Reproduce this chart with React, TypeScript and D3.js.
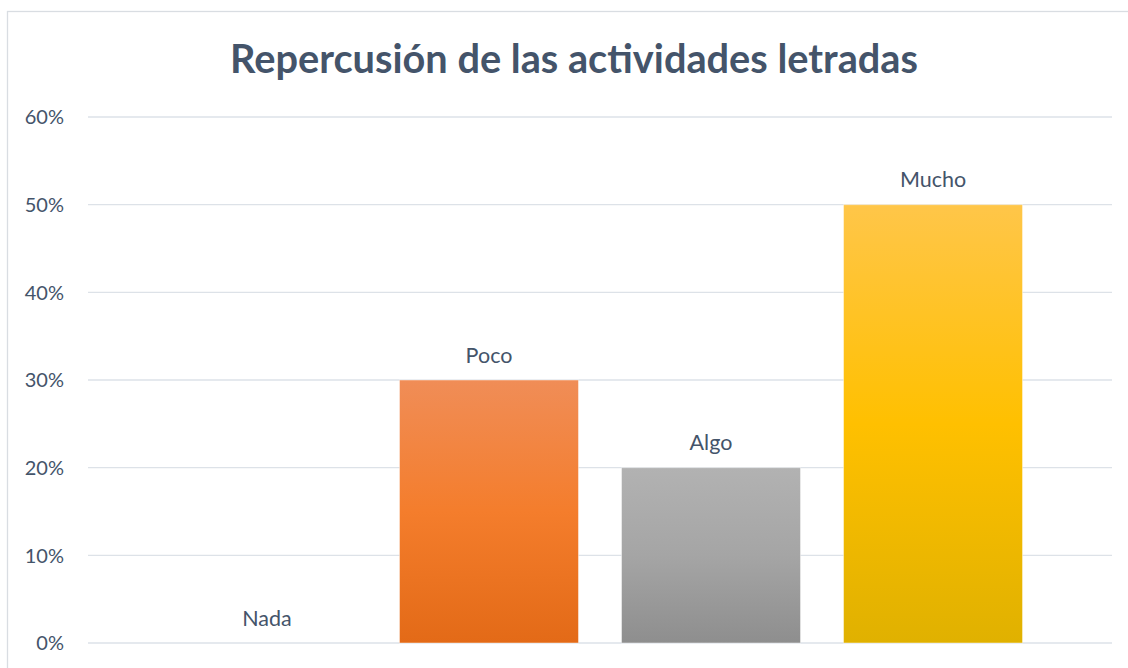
import React, { useLayoutEffect, useRef, useState } from "react";
import * as d3 from "d3";

const categories = ["Nada", "Poco", "Algo", "Mucho"];
const values = [0, 0.3, 0.2, 0.5];
const yTicks = [0, 0.1, 0.2, 0.3, 0.4, 0.5, 0.6];
const title = "Repercusión de las actividades letradas";

const gradients = [
  { id: "gNada", stops: ["#7aa1d8", "#4472c4", "#3a64b0"] },
  { id: "gPoco", stops: ["#f08d57", "#f47d2c", "#e36a17"] },
  { id: "gAlgo", stops: ["#b2b2b2", "#a5a5a5", "#8e8e8e"] },
  { id: "gMucho", stops: ["#ffc649", "#ffc000", "#e0b100"] },
];

const W = 1128;
const H = 668;
const plot = { left: 88, right: 1112, top: 117, bottom: 643 };
const FONT = "Lato, 'Open Sans', sans-serif";
const TEXT = "#44546A";

export default function App() {
  const titleRef = useRef<SVGTextElement>(null);
  const [titleSize, setTitleSize] = useState(37);

  useLayoutEffect(() => {
    const el = titleRef.current;
    if (!el) return;
    const len = el.getComputedTextLength();
    const target = 688;
    if (len > 0 && Math.abs(len - target) > 1) {
      setTitleSize((s) => (s * target) / len);
    }
  }, [titleSize]);

  const x = d3
    .scaleBand<string>()
    .domain(categories)
    .range([plot.left, plot.right])
    .paddingInner(0.1937)
    .paddingOuter(0.403)
    .align(0.5);
  const y = d3.scaleLinear().domain([0, 0.6]).range([plot.bottom, plot.top]);
  const fmt = d3.format(".0%");

  return (
    <svg
      width={W}
      height={H}
      style={{ position: "absolute", left: 0, top: 0, display: "block", background: "#fff" }}
    >
      <defs>
        {gradients.map((g) => (
          <linearGradient key={g.id} id={g.id} x1="0" y1="0" x2="0" y2="1">
            <stop offset="0%" stopColor={g.stops[0]} />
            <stop offset="50%" stopColor={g.stops[1]} />
            <stop offset="100%" stopColor={g.stops[2]} />
          </linearGradient>
        ))}
      </defs>
      <rect x={7.5} y={11.5} width={W + 20} height={H + 20} fill="#fff" stroke="#D9DDE2" strokeWidth={1.3} />
      <text
        ref={titleRef}
        x={(230 + 918) / 2}
        y={72.5}
        textAnchor="middle"
        fontFamily={FONT}
        fontWeight={700}
        fontSize={titleSize}
        fill={TEXT}
      >
        {title}
      </text>
      <g>
        {yTicks.map((t) => (
          <g key={t}>
            <line
              x1={plot.left}
              x2={plot.right}
              y1={y(t)}
              y2={y(t)}
              stroke="#DDE2E8"
              strokeWidth={1.4}
            />
            <text
              x={64}
              y={y(t)}
              dy="0.36em"
              textAnchor="end"
              fontFamily={FONT}
              fontSize={20}
              fill={TEXT}
            >
              {fmt(t)}
            </text>
          </g>
        ))}
      </g>
      <g>
        {categories.map((c, i) => {
          const v = values[i];
          const g = gradients[i];
          const bx = x(c) as number;
          const bw = x.bandwidth();
          return (
            <g key={c}>
              {v > 0 && (
                <rect
                  x={bx}
                  y={y(v)}
                  width={bw}
                  height={y(0) - y(v)}
                  fill={`url(#${g.id})`}
                  stroke="#ffffff"
                  strokeOpacity={0.45}
                  strokeWidth={1}
                />
              )}
              <text
                x={bx + bw / 2}
                y={y(v) - 17.5}
                textAnchor="middle"
                fontFamily={FONT}
                fontSize={21.5}
                fill={TEXT}
              >
                {c}
              </text>
            </g>
          );
        })}
      </g>
    </svg>
  );
}
